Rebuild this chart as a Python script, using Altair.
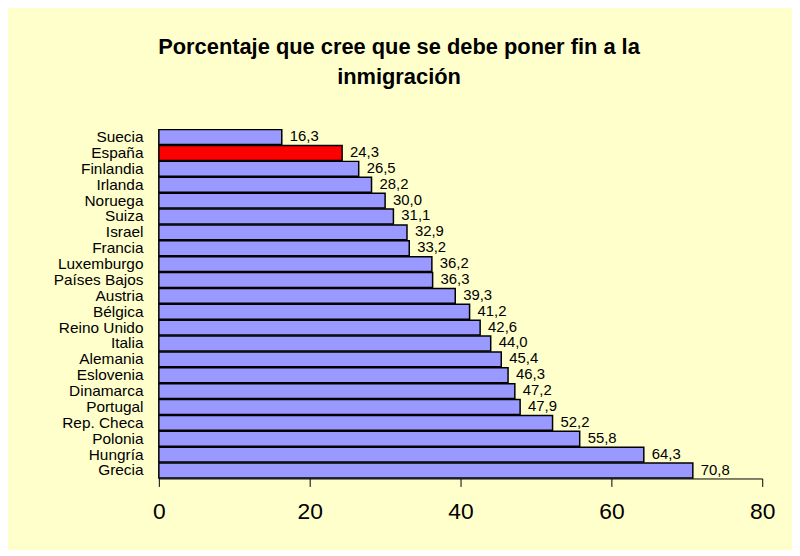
import altair as alt
import pandas as pd

countries = ["Suecia", "España", "Finlandia", "Irlanda", "Noruega", "Suiza", "Israel",
             "Francia", "Luxemburgo", "Países Bajos", "Austria", "Bélgica", "Reino Unido",
             "Italia", "Alemania", "Eslovenia", "Dinamarca", "Portugal", "Rep. Checa",
             "Polonia", "Hungría", "Grecia"]
values = [16.3, 24.3, 26.5, 28.2, 30.0, 31.1, 32.9, 33.2, 36.2, 36.3, 39.3, 41.2, 42.6,
          44.0, 45.4, 46.3, 47.2, 47.9, 52.2, 55.8, 64.3, 70.8]
highlight = "España"
x_ticks = [0, 20, 40, 60, 80]

df = pd.DataFrame({
    "pais": countries,
    "valor": values,
    "etiqueta": [f"{v:.1f}".replace(".", ",") for v in values],
    "destacado": [c == highlight for c in countries],
})

FONT = "Liberation Sans"

y_enc = alt.Y("pais:N", sort=countries, title=None,
              scale=alt.Scale(paddingInner=0.06, paddingOuter=0.03),
              axis=alt.Axis(labelFontSize=15.5, labelColor="black", labelFont=FONT,
                            ticks=False, domainColor="black", domainWidth=1,
                            labelPadding=16, labelLimit=300))
x_enc = alt.X("valor:Q", title=None,
              scale=alt.Scale(domain=[0, 80], nice=False),
              axis=alt.Axis(values=x_ticks, grid=False, labelFontSize=23, labelFont=FONT,
                            labelColor="black", tickColor="black", tickSize=8,
                            domainColor="black", labelPadding=14, labelFlush=False))

bars = alt.Chart(df).mark_bar(stroke="black", strokeWidth=1.5).encode(
    x=x_enc,
    y=y_enc,
    color=alt.condition("datum.destacado", alt.value("#FF0000"), alt.value("#9999FF")),
)

labels = alt.Chart(df).mark_text(align="left", baseline="middle", dx=8, dy=-1,
                                 fontSize=15, font=FONT, color="black").encode(
    x="valor:Q",
    y=alt.Y("pais:N", sort=countries),
    text="etiqueta:N",
)

chart = (bars + labels).properties(
    width=608,
    height=352,
    background="#FFFFCC",
    padding={"left": 152, "top": 120, "right": 30, "bottom": 70},
    autosize=alt.AutoSizeParams(type="none"),
    title=alt.TitleParams(
        text=["Porcentaje que cree que se debe poner fin a la", "inmigración"],
        fontSize=22, font=FONT, fontWeight="bold", color="black",
        anchor="middle", dx=-62, offset=40, lineHeight=30,
    ),
).configure_view(stroke=None)

chart.save("out.html", embed_options={"renderer": "svg", "actions": False})
